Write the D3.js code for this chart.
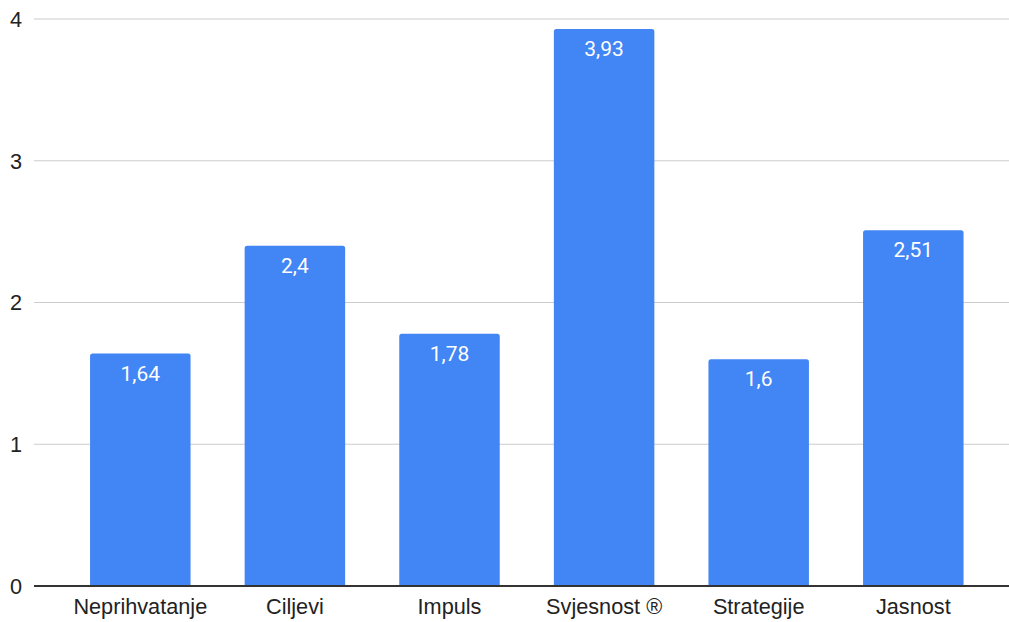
<!DOCTYPE html>
<html>
<head>
<meta charset="utf-8">
<script src="https://cdn.jsdelivr.net/npm/d3@7"></script>
<style>
  html, body { margin: 0; padding: 0; background: #fff; }
</style>
</head>
<body>
<div id="chart"></div>
<script>
// Podaci
const categories = ["Neprihvatanje", "Ciljevi", "Impuls", "Svjesnost ®", "Strategije", "Jasnost"];
const values = [1.64, 2.4, 1.78, 3.93, 1.6, 2.51];
const labels = ["1,64", "2,4", "1,78", "3,93", "1,6", "2,51"];
const yTicks = [0, 1, 2, 3, 4];

const width = 1009;
const height = 622;
const gridLeft = 34;
const gridRight = 1009;

const svg = d3.create("svg")
  .attr("width", width)
  .attr("height", height)
  .attr("viewBox", [0, 0, width, height]);

d3.select("#chart").append(() => svg.node());

// Escalas
const x = d3.scaleBand()
  .domain(categories)
  .range([63, 990.6])
  .paddingInner(0.35)
  .paddingOuter(0.175);

const y = d3.scaleLinear()
  .domain([0, 4])
  .range([586, 19]);

// Líneas de la cuadrícula
svg.append("g")
  .selectAll("line")
  .data(yTicks.filter(d => d !== 0))
  .join("line")
  .attr("x1", gridLeft)
  .attr("x2", gridRight)
  .attr("y1", d => y(d))
  .attr("y2", d => y(d))
  .attr("stroke", "#cccccc")
  .attr("stroke-width", 1.2);

// Etiquetas del eje Y
svg.append("g")
  .selectAll("text")
  .data(yTicks)
  .join("text")
  .attr("x", 22)
  .attr("y", d => y(d))
  .attr("dy", "0.36em")
  .attr("text-anchor", "end")
  .attr("font-family", "Liberation Sans, Arial, sans-serif")
  .attr("font-size", 21.7)
  .attr("fill", "#222")
  .text(d => d);

// Barras con esquinas superiores redondeadas
const r = 2.5;
svg.append("g")
  .selectAll("path")
  .data(values)
  .join("path")
  .attr("fill", "#4285f4")
  .attr("d", (d, i) => {
    const x0 = x(categories[i]), x1 = x0 + x.bandwidth();
    const y0 = y(0), y1 = y(d);
    return `M${x0},${y0}V${y1 + r}Q${x0},${y1} ${x0 + r},${y1}H${x1 - r}Q${x1},${y1} ${x1},${y1 + r}V${y0}Z`;
  });

// Etiquetas de valores
svg.append("g")
  .selectAll("text")
  .data(values)
  .join("text")
  .attr("x", (d, i) => x(categories[i]) + x.bandwidth() / 2)
  .attr("y", d => y(d) + 27)
  .attr("text-anchor", "middle")
  .attr("font-family", "Roboto, sans-serif")
  .attr("font-size", 21)
  .attr("fill", "#fff")
  .text((d, i) => labels[i]);

// Línea base
svg.append("line")
  .attr("x1", gridLeft)
  .attr("x2", gridRight)
  .attr("y1", y(0))
  .attr("y2", y(0))
  .attr("stroke", "#333")
  .attr("stroke-width", 1.8);

// Etiquetas del eje X
svg.append("g")
  .selectAll("text")
  .data(categories)
  .join("text")
  .attr("x", d => x(d) + x.bandwidth() / 2)
  .attr("y", 614)
  .attr("text-anchor", "middle")
  .attr("font-family", "Liberation Sans, Arial, sans-serif")
  .attr("font-size", 21.7)
  .attr("fill", "#222")
  .text(d => d);
</script>
</body>
</html>
